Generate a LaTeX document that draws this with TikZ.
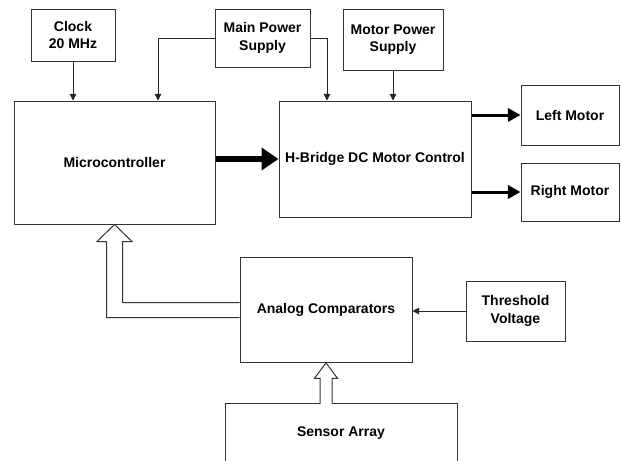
\documentclass[tikz,border=0pt]{standalone}
\usepackage{fontspec}
\setmainfont{Liberation Sans}
\usetikzlibrary{arrows.meta, calc}
\tikzset{
  blk/.style    = {draw=black!80, line width=0.75pt, align=center, inner sep=2pt,
                   font=\fontsize{10.5}{13}\selectfont\bfseries},
  sz/.style 2 args = {minimum width=#1, minimum height=#2},
  sig/.style    = {-{Triangle[length=5pt, width=5pt]}, line width=0.75pt, draw=black!85},
  bus/.style    = {-{Triangle[length=12.75pt, width=16.5pt]}, line width=4.5pt},
  drv/.style    = {-{Triangle[length=9.5pt, width=10pt]}, line width=2.25pt},
  hollow/.style = {draw=black!80, line width=0.75pt, fill=white, line join=miter},
}

\begin{document}
\begin{tikzpicture}[x=0.75pt, y=-0.75pt]
\useasboundingbox (0,0) rectangle (622,461);
% --- top row: clock and the two supplies ---------------------------------------------
\node[blk, sz={63pt}{39pt}]      (clock)   at (73,35)     {Clock\\20 MHz};
\node[blk, sz={71.25pt}{43.5pt}] (mainps)  at (262.5,38)  {Main Power\\Supply};
\node[blk, sz={75pt}{45.75pt}]   (motorps) at (393,39.5)  {Motor Power\\Supply};

% --- controller and driver -----------------------------------------------------------
\node[blk, sz={150.75pt}{92.25pt}] (mcu) at (114.5,162.5) {Microcontroller};
\node[blk, sz={144pt}{87pt}]       (hbr) at (375,159)     {H-Bridge DC Motor Control};
\node[blk, sz={73.5pt}{45pt}]   (leftm)  at (570,115) {Left Motor};
\node[blk, sz={73.5pt}{43.5pt}] (rightm) at (570,192) {Right Motor};

% --- sensing chain -------------------------------------------------------------------
\node[blk, sz={129pt}{78.5pt}]  (comp)   at (326,310)   {Analog Comparators};
\node[blk, sz={74.25pt}{45pt}]  (thresh) at (515.5,311) {Threshold\\Voltage};
\node[blk, sz={174pt}{45pt}]    (sensor) at (341,433)   {Sensor Array};

\coordinate (mcuin) at ($(mcu.north)+(43.5,0)$);
\coordinate (hbrin) at ($(hbr.north)+(-48,0)$);

% supply and clock lines
\draw[sig] (clock) -- (clock |- mcu.north);
\draw[sig] (mainps.west) -| (mcuin);
\draw[sig] (mainps.east) -| (hbrin);
\draw[sig] (motorps) -- (motorps |- hbr.north);
% control and drive
\draw[bus] (mcu.east |- hbr.west) -- (hbr.west);
\draw[drv] (hbr.east |- leftm.west) -- (leftm.west);
\draw[drv] (hbr.east |- rightm.west) -- (rightm.west);
\draw[sig] (thresh.west) -- (comp.east |- thresh.west);

% hollow bus arrows
\draw[hollow] ($(comp.west)+(0,-7.5)$) -| ($(mcu.south)+(8,17)$) -- ++(9.5,0)
  -- (mcu.south) -- ++(-17.5,17) -- ++(9.5,0) |- ($(comp.west)+(0,7.5)$);
\draw[hollow] ($(comp.south)+(6,41)$) -- ++(0,-25.5) -- ++(5.5,0) -- (comp.south)
  -- ++(-11.5,15.5) -- ++(5.5,0) -- ++(0,25.5);
\end{tikzpicture}
\end{document}
